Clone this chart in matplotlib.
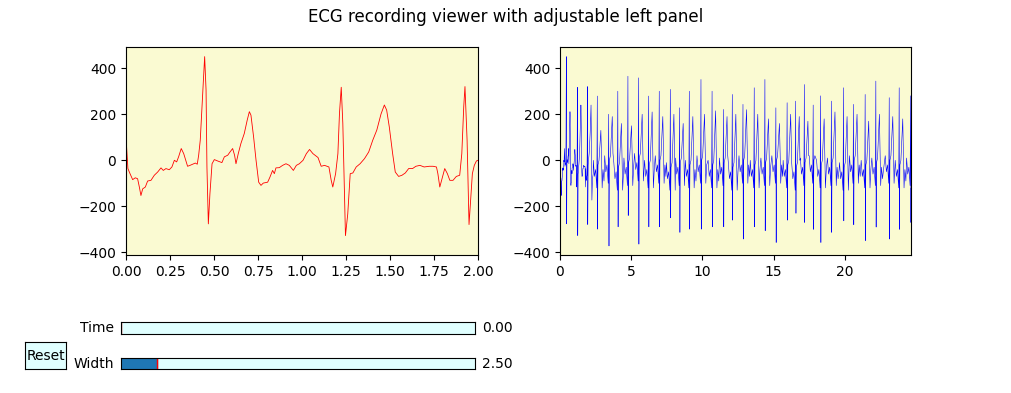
import numpy as np
import matplotlib
matplotlib.use("Agg")
import matplotlib.pyplot as plt

# ---------------- data ----------------
# detailed trace of the first ~2.3 s
seg_t = [0.000, 0.011, 0.023, 0.038, 0.053, 0.066, 0.076, 0.085, 0.095, 0.110,
         0.123, 0.142, 0.161, 0.180, 0.199, 0.212, 0.227, 0.246, 0.261, 0.275,
         0.288, 0.299, 0.314, 0.328, 0.341, 0.350, 0.364, 0.379, 0.394, 0.405,
         0.413, 0.422, 0.432, 0.447, 0.455, 0.460, 0.468, 0.477, 0.489, 0.502,
         0.521, 0.545, 0.559, 0.578, 0.591, 0.606, 0.617, 0.625, 0.638, 0.653,
         0.672, 0.689, 0.701, 0.710, 0.725, 0.739, 0.754, 0.767, 0.780, 0.805,
         0.818, 0.833, 0.843, 0.852, 0.871, 0.890, 0.909, 0.928, 0.951, 0.968,
         0.985, 1.006, 1.025, 1.043, 1.062, 1.091, 1.109, 1.128, 1.153, 1.166,
         1.175, 1.191, 1.204, 1.213, 1.223, 1.232, 1.242, 1.247, 1.260, 1.274,
         1.289, 1.308, 1.330, 1.355, 1.379, 1.402, 1.425, 1.449, 1.468, 1.481,
         1.496, 1.515, 1.530, 1.549, 1.568, 1.587, 1.606, 1.628, 1.647, 1.670,
         1.694, 1.723, 1.745, 1.764, 1.772, 1.783, 1.798, 1.811, 1.826, 1.840,
         1.858, 1.877, 1.896, 1.908, 1.919, 1.926, 1.938, 1.949, 1.958, 1.968,
         1.979, 1.991, 2.000, 2.050, 2.120, 2.180, 2.210, 2.240, 2.280, 2.330]
seg_v = [102, -36, -58, -84, -76, -80, -116, -153, -124, -116,
         -90, -87, -65, -51, -33, -44, -36, -41, -29, 0,
         -7, 15, 51, 29, -3, -26, -22, -17, -12, -17,
         22, 87, 233, 450, 305, -29, -276, -145, -15, 3,
         -3, -10, 15, 22, 36, 51, 22, -15, 29, 73,
         116, 175, 211, 196, 102, 0, -95, -109, -99, -95,
         -73, -44, -58, -33, -32, -22, -15, -22, -44, -22,
         -15, 0, 29, 47, 29, 12, -26, -22, -29, -87,
         -116, -58, 29, 204, 317, 160, -175, -327, -233, -58,
         -55, -29, -15, 7, 36, 87, 131, 201, 240, 218,
         145, 29, -51, -70, -65, -55, -36, -36, -26, -22,
         -29, -26, -26, -29, -58, -116, -73, -36, -58, -87,
         -87, -70, -65, 29, 233, 320, 87, -279, -175, -58,
         -22, -3, 0, 30, 120, 240, 60, -173, -80, -60]

# remaining beats: R-peak time, R, S, T amplitudes, baseline
beat_time = [2.62, 3.42, 4.06, 4.77, 5.52, 6.22, 6.97, 7.75, 8.40, 9.08,
             9.90, 10.68, 11.48, 12.10, 12.85, 13.64, 14.39, 15.16, 15.95, 16.55,
             17.16, 17.78, 18.30, 19.06, 19.91, 20.61, 21.43, 22.18, 23.12, 23.82,
             24.62]
beat_r = [279, 200, 300, 365, 358, 279, 300, 308, 228, 300,
          351, 300, 221, 286, 243, 315, 351, 228, 250, 257,
          329, 240, 280, 257, 315, 243, 286, 344, 272, 315,
          280]
beat_s = [-299, -372, -289, -240, -364, -289, -289, -250, -313, -299,
          -299, -289, -289, -260, -342, -289, -306, -357, -260, -230,
          -270, -300, -357, -313, -263, -280, -349, -290, -342, -300,
          -270]
beat_t = [130, 190, 160, 150, 200, 210, 190, 200, 160, 190,
          200, 215, 190, 200, 220, 200, 180, 160, 200, 190,
          170, 200, 180, 210, 190, 200, 170, 200, 190, 180,
          0]
beat_base = [-60, -40, -70, -50, -30, -60, -40, -70, -50, -60,
             -40, -60, -50, -70, -40, -60, -50, -40, -60, -70,
             -50, -40, -60, -50, -70, -40, -60, -50, -40, -60,
             -50]
t_end = 24.65

# ---------------- build full trace ----------------
tt = list(seg_t)
vv = list(seg_v)
for i, (tr, r, s, tw, b) in enumerate(zip(beat_time, beat_r, beat_s, beat_t, beat_base)):
    nxt = beat_time[i + 1] if i + 1 < len(beat_time) else 99
    pts = [(-0.28, b + 60), (-0.20, b - 10), (-0.12, b + 20), (-0.035, b - 60),
           (-0.012, r * 0.45), (0.0, r), (0.021, s), (0.032, s * 0.45),
           (0.05, b + 40), (0.12, b + 60), (0.25, tw),
           (0.30, b + 70), (0.34, b - 60), (0.40, b + 20), (0.47, b - 30), (0.54, b + 10)]
    for off, val in pts:
        t = tr + off
        if t > t_end:
            tt.append(t_end)
            vv.append(val)
            break
        if off > 0.05 and t > nxt - 0.31:
            break
        if t > tt[-1]:
            tt.append(t)
            vv.append(val)
    if tt[-1] >= t_end:
        break
tt = np.array(tt)
vv = np.array(vv)

# ---------------- figure ----------------
fig = plt.figure(figsize=(10.11, 3.93), dpi=100)
axcolor = 'lightgoldenrodyellow'
ax1 = fig.add_axes([0.1246, 0.35, 0.3482, 0.53], facecolor=axcolor)
ax2 = fig.add_axes([0.5539, 0.35, 0.3472, 0.53], facecolor=axcolor)

ax1.plot(tt, vv, color='red', lw=0.6)
ax1.set_xlim(0, 2.0)
ax2.plot(tt, vv, color='blue', lw=0.4)
ax2.set_xlim(0, t_end)
for ax in (ax1, ax2):
    ax.set_yticks([-400, -200, 0, 200, 400])
ax1.set_xticks([0, 0.25, 0.5, 0.75, 1.0, 1.25, 1.5, 1.75, 2.0])
ax1.set_xticklabels(['0.00', '0.25', '0.50', '0.75', '1.00', '1.25', '1.50', '1.75', '2.00'])

fig.suptitle('ECG recording viewer with adjustable left panel', fontsize=12)

# slider look-alikes
slider_color = 'lightcyan'
ax_time = fig.add_axes([0.12, 0.15, 0.35, 0.03], facecolor=slider_color)
ax_width = fig.add_axes([0.12, 0.06, 0.35, 0.03], facecolor=slider_color)
for ax, label, val, fill in ((ax_time, 'Time', 0.0, 0.0), (ax_width, 'Width', 2.5, 2.5)):
    ax.set_xlim(0, t_end)
    ax.set_ylim(0, 1)
    ax.set_xticks([])
    ax.set_yticks([])
    if fill > 0:
        ax.axvspan(0, fill, color='#1f77b4')
    ax.axvline(val, color='r', lw=1)
    ax.text(-0.02, 0.5, label, transform=ax.transAxes, ha='right', va='center', fontsize=10)
    ax.text(1.02, 0.5, f'{val:.2f}', transform=ax.transAxes, ha='left', va='center', fontsize=10)

ax_reset = fig.add_axes([0.025, 0.06, 0.04, 0.07], facecolor=slider_color)
ax_reset.set_xticks([])
ax_reset.set_yticks([])
ax_reset.text(0.5, 0.5, 'Reset', transform=ax_reset.transAxes, ha='center', va='center', fontsize=10)

fig.savefig('out.png', dpi=100)
